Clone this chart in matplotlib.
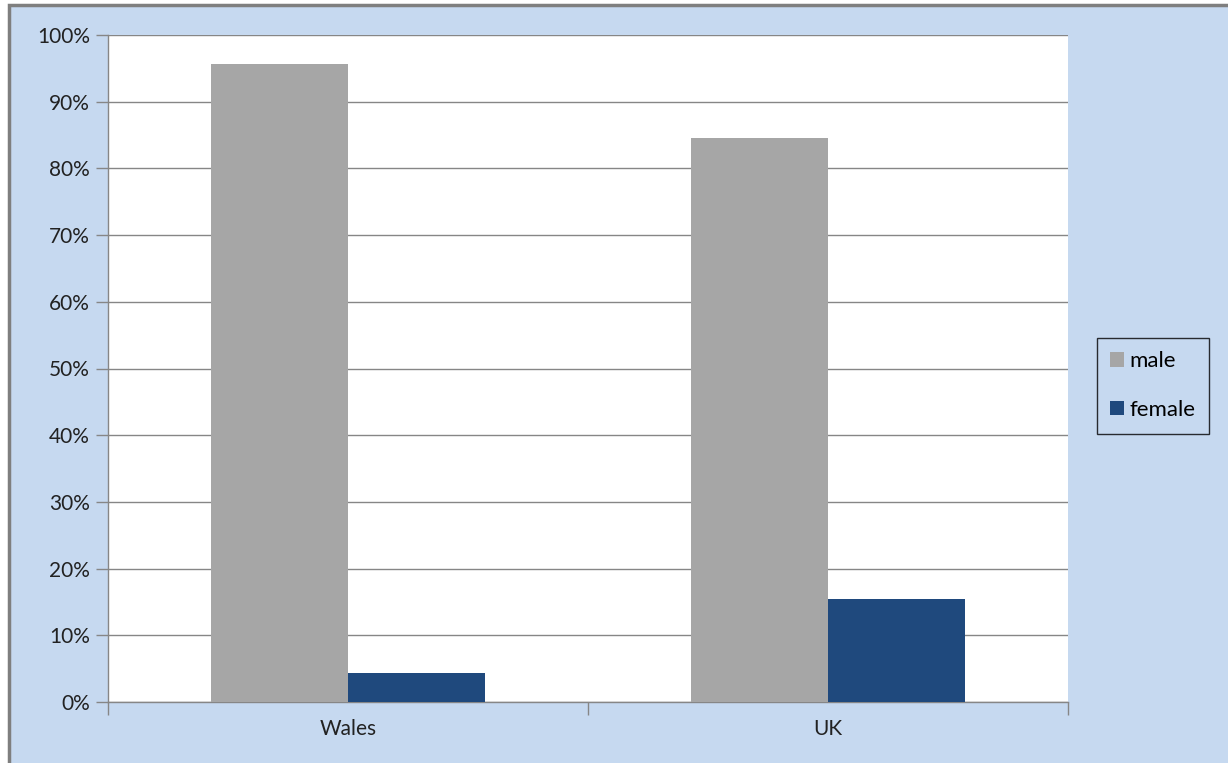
import matplotlib
matplotlib.use("Agg")
import matplotlib.pyplot as plt
from matplotlib.patches import Rectangle
import numpy as np

categories = ["Wales", "UK"]
series_names = ["male", "female"]
male = [95.7, 84.6]
female = [4.3, 15.4]
yticks = [0, 10, 20, 30, 40, 50, 60, 70, 80, 90, 100]

W, H = 1228, 763
fig = plt.figure(figsize=(W / 100, H / 100), dpi=100)
fig.patch.set_facecolor("white")

# outer chart frame
frame = Rectangle((9 / W, -0.1), 1.2, 1 - 5 / H + 0.1, transform=fig.transFigure,
                  facecolor="#C6D9F0", edgecolor="#7F7F7F", linewidth=2.5, zorder=-10)
fig.patches.append(frame)

ax = fig.add_axes([108 / W, 1 - 702 / H, (1068 - 108) / W, (702 - 35) / H])
ax.set_zorder(5)
ax.set_facecolor("white")

x = np.arange(len(categories))
bw = 1 / 3.5
b1 = ax.bar(x - bw / 2, male, width=bw, color="#A6A6A6", label=series_names[0], zorder=3)
b2 = ax.bar(x + bw / 2, female, width=bw, color="#1F497D", label=series_names[1], zorder=3)

ax.set_xlim(-0.5, len(categories) - 0.5)
ax.set_ylim(0, 100)
ax.set_yticks(yticks)
ax.set_yticklabels([f"{v}%" for v in yticks], fontsize=15, color="#222222", family="Lato")
ax.yaxis.grid(True, color="#868686", linewidth=1, zorder=1)
ax.set_axisbelow(True)

ax.set_xticks(x)
ax.set_xticklabels(categories, fontsize=15, color="#222222", family="Lato")
ax.tick_params(axis="x", length=0, pad=12)
# category boundary tick marks
ax.set_xticks([-0.5, 0.5, 1.5], minor=True)
ax.tick_params(axis="x", which="minor", length=9, color="#868686", width=1)
ax.tick_params(axis="y", length=9, color="#868686", width=1, pad=4)

for s in ["top", "right"]:
    ax.spines[s].set_visible(False)
for s in ["left", "bottom"]:
    ax.spines[s].set_color("#868686")
    ax.spines[s].set_linewidth(1)

leg = fig.legend(handles=[b1, b2], labels=series_names, loc="upper left",
                 bbox_to_anchor=(1097 / W, 1 - 338 / H), frameon=True, fancybox=False,
                 prop={"family": "Lato", "size": 16}, handlelength=0.6, handleheight=0.6,
                 handletextpad=0.25, labelspacing=1.3, borderpad=0.6, borderaxespad=0)
leg.get_frame().set_edgecolor("black")
leg.get_frame().set_facecolor("#C6D9F0")
leg.get_frame().set_linewidth(1)
leg.set_zorder(6)

fig.savefig("out.png", dpi=100, facecolor=fig.get_facecolor())
